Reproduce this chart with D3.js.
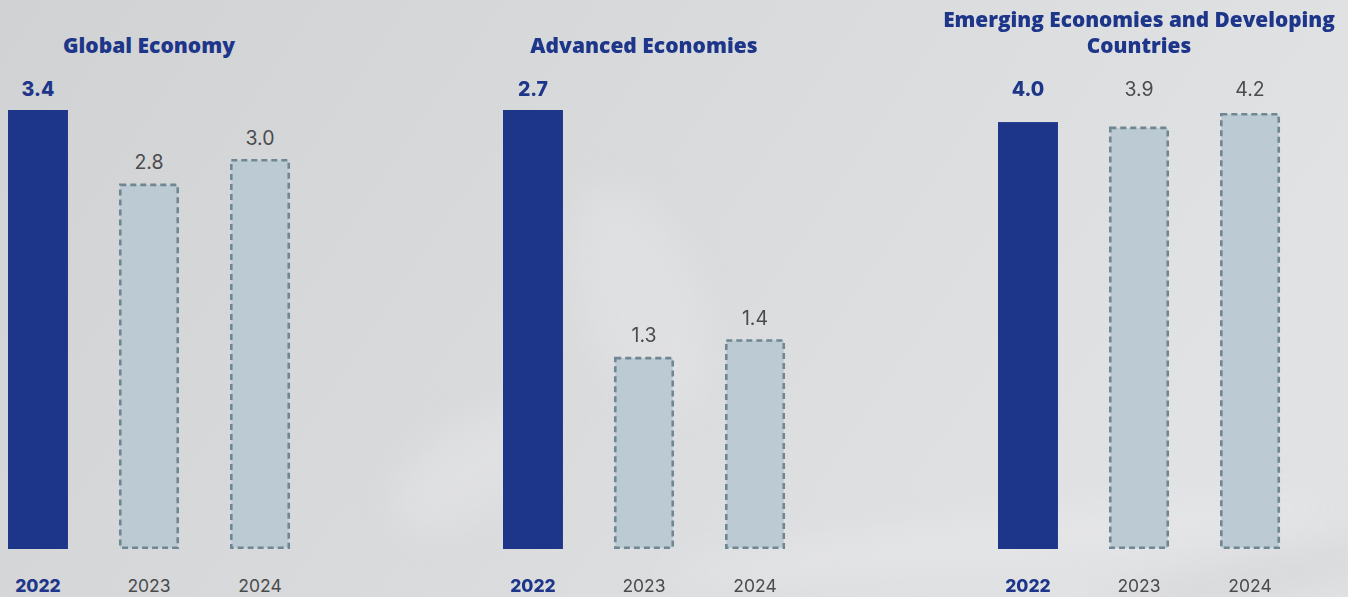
<!DOCTYPE html>
<html>
<head>
<meta charset="utf-8">
<script src="https://cdn.jsdelivr.net/npm/d3@7"></script>
<style>
  html, body { margin: 0; padding: 0; background: #d8d9db; }
  svg { display: block; }
</style>
</head>
<body>
<svg id="chart" width="1348" height="597"></svg>
<script>
// GDP growth by region (%), actual 2022 and projections 2023/2024
const years = ["2022", "2023", "2024"];
const regionTitles = [
  ["Global Economy"],
  ["Advanced Economies"],
  ["Emerging Economies and Developing", "Countries"]
];
const globalEconomy = [3.4, 2.8, 3.0];
const advancedEconomies = [2.7, 1.3, 1.4];
const emergingEconomies = [4.0, 3.9, 4.2];
const seriesValues = [globalEconomy, advancedEconomies, emergingEconomies];

// Each panel uses its own vertical scale; lower bound of each value domain
const domainFloors = [-0.18, 0.21, -5.4];

const W = 1348, H = 597;
const panelX = [0, 495, 990];
const panelWidth = 298;
const baseY = 549;
const topY = [110, 110, 113];
const titleSize = [21, 21, 20.8];
// labels in the last panel share one baseline
const alignedLabels = [false, false, true];
const labelCapY = 96;

const navy = "#1e368a";
const grayText = "#4a4b4d";
const font = "Inter, 'Noto Sans', sans-serif";
const titleFont = "'Open Sans', 'Noto Sans', sans-serif";

const svg = d3.select("#chart");

// Soft background
const defs = svg.append("defs");
const bg = defs.append("linearGradient").attr("id", "bg")
  .attr("x1", "0").attr("y1", "0").attr("x2", "1").attr("y2", "0.3");
bg.append("stop").attr("offset", "0").attr("stop-color", "#d1d2d4");
bg.append("stop").attr("offset", "0.5").attr("stop-color", "#d9dadc");
bg.append("stop").attr("offset", "1").attr("stop-color", "#e1e2e4");
const blur = defs.append("filter").attr("id", "soft")
  .attr("x", "-50%").attr("y", "-50%").attr("width", "200%").attr("height", "200%");
blur.append("feGaussianBlur").attr("stdDeviation", 18);

svg.append("rect").attr("width", W).attr("height", H).attr("fill", "url(#bg)");

// faint highlights in the backdrop
const haze = svg.append("g").attr("filter", "url(#soft)").attr("opacity", 0.5);
haze.append("ellipse").attr("cx", 470).attr("cy", 470).attr("rx", 90).attr("ry", 45)
  .attr("transform", "rotate(-35 470 470)").attr("fill", "#e6e6e8");
haze.append("ellipse").attr("cx", 640).attr("cy", 300).attr("rx", 60).attr("ry", 120)
  .attr("transform", "rotate(-20 640 300)").attr("fill", "#e4e5e7");
haze.append("ellipse").attr("cx", 1000).attr("cy", 540).attr("rx", 340).attr("ry", 20)
  .attr("transform", "rotate(-6 1000 540)").attr("fill", "#ebebed");
haze.append("ellipse").attr("cx", 1250).attr("cy", 580).attr("rx", 150).attr("ry", 14)
  .attr("transform", "rotate(-12 1250 580)").attr("fill", "#c9cacc");

seriesValues.forEach((values, i) => {
  const x0 = panelX[i];
  const g = svg.append("g");

  const x = d3.scaleBand()
    .domain(years)
    .range([x0 + 8, x0 + 290])
    .paddingInner(0.46)
    .paddingOuter(0);

  const y = d3.scaleLinear()
    .domain([domainFloors[i], d3.max(values)])
    .range([baseY, topY[i]]);

  const data = years.map((yr, j) => ({ year: yr, value: values[j], actual: j === 0 }));

  // Title (one or two lines)
  const titleLines = regionTitles[i];
  const title = g.append("text")
    .attr("x", x0 + panelWidth / 2)
    .attr("y", titleLines.length === 1 ? 53 : 27)
    .attr("text-anchor", "middle")
    .attr("font-family", titleFont)
    .attr("font-weight", 800)
    .attr("font-size", titleSize[i])
    .attr("fill", navy);
  titleLines.forEach((line, k) => {
    title.append("tspan")
      .attr("x", x0 + panelWidth / 2)
      .attr("dy", k === 0 ? 0 : 26)
      .text(line);
  });

  // Bars
  g.selectAll("rect.bar")
    .data(data)
    .join("rect")
    .attr("class", "bar")
    .attr("x", d => x(d.year) + (d.actual ? 0 : 1.25))
    .attr("y", d => y(d.value) + (d.actual ? 0 : 1.25))
    .attr("width", d => x.bandwidth() - (d.actual ? 0 : 2.5))
    .attr("height", d => baseY - y(d.value) - (d.actual ? 0 : 2.5))
    .attr("fill", d => d.actual ? navy : "#bccad3")
    .attr("stroke", d => d.actual ? "none" : "#6e8792")
    .attr("stroke-width", 2.6)
    .attr("stroke-dasharray", "6 4");

  // Value labels
  g.selectAll("text.val")
    .data(data)
    .join("text")
    .attr("class", "val")
    .attr("x", d => x(d.year) + x.bandwidth() / 2)
    .attr("y", d => alignedLabels[i] ? labelCapY : y(d.value) - 14.5)
    .attr("text-anchor", "middle")
    .attr("font-family", font)
    .attr("font-size", 19.5)
    .attr("font-weight", d => d.actual ? 800 : 400)
    .attr("fill", d => d.actual ? navy : grayText)
    .text(d => d.value.toFixed(1));

  // Year axis labels
  const axis = d3.axisBottom(x).tickSize(0).tickPadding(0);
  const ax = g.append("g")
    .attr("transform", `translate(0, ${H - 17})`)
    .call(axis);
  ax.select(".domain").remove();
  ax.selectAll(".tick text")
    .attr("dy", "0.71em")
    .attr("y", 0)
    .attr("font-family", font)
    .attr("font-size", 17.5)
    .attr("font-weight", d => d === years[0] ? 800 : 400)
    .attr("fill", d => d === years[0] ? navy : grayText);
});
</script>
</body>
</html>
